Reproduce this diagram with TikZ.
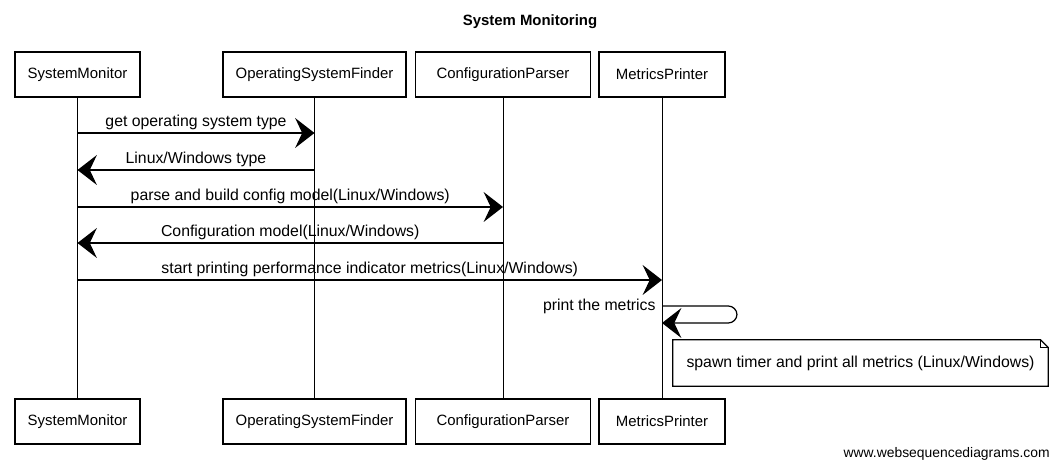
\documentclass[tikz,border=0pt]{standalone}
\usepackage{fontspec}
\setmainfont{Liberation Sans}
\usetikzlibrary{arrows.meta}
\begin{document}
\begin{tikzpicture}[x=0.02cm, y=-0.02cm, font=\fontsize{9}{11}\selectfont,
	actor/.style={draw, line width=0.7pt, minimum height=0.9cm, font=\fontsize{8.5}{10}\selectfont},
	msg/.style={line width=0.7pt, -{Stealth[length=11pt, width=17pt, inset=4pt]}},
	lbl/.style={above, inner sep=1.5pt},
	lifeline/.style={line width=0.5pt}]
	\useasboundingbox (0,0) rectangle (1058,469);
	\node[font=\fontsize{8.5}{10}\selectfont\bfseries] (title) at (530,22) {System Monitoring};
	% participants, top and bottom, with their lifelines
	\foreach \p/\x/\w/\name in {sm/77.5/2.5/SystemMonitor, osf/314.5/3.66/OperatingSystemFinder, cp/503/3.5/ConfigurationParser, mp/662/2.52/MetricsPrinter} {
		\node[actor, minimum width=\w cm] (\p-top) at (\x,74.5) {\name};
		\node[actor, minimum width=\w cm] (\p-bot) at (\x,421.5) {\name};
		\draw[lifeline] (\p-top) -- (\p-bot);
	}
	% messages
	\draw[msg] (sm-top |- 0,133) -- node[lbl] {get operating system type} (osf-top |- 0,133);
	\draw[msg] (osf-top |- 0,170) -- node[lbl] {Linux/Windows type} (sm-top |- 0,170);
	\draw[msg] (sm-top |- 0,207) -- node[lbl] {parse and build config model(Linux/Windows)} (cp-top |- 0,207);
	\draw[msg] (cp-top |- 0,243) -- node[lbl] {Configuration model(Linux/Windows)} (sm-top |- 0,243);
	\draw[msg] (sm-top |- 0,280) -- node[lbl] {start printing performance indicator metrics(Linux/Windows)} (mp-top |- 0,280);
	% self call
	\draw[msg, rounded corners=5pt] (mp-top |- 0,306) node[left] {print the metrics} -- (737,306) -- (737,323) -- (mp-top |- 0,323);
	% note
	\node[minimum width=7.5cm, minimum height=0.92cm] (note) at (860.5,363) {spawn timer and print all metrics (Linux/Windows)};
	\draw[line width=0.7pt] (note.north west) -- ([xshift=-0.16cm]note.north east) -- ([yshift=-0.16cm]note.north east) -- (note.south east) -- (note.south west) -- cycle;
	\draw[line width=0.5pt] ([xshift=-0.16cm]note.north east) |- ([yshift=-0.16cm]note.north east);
	\node[anchor=base east, font=\fontsize{7.9}{9}\selectfont, inner sep=0pt] (wsd) at (1050,458) {www.websequencediagrams.com};
\end{tikzpicture}
\end{document}
